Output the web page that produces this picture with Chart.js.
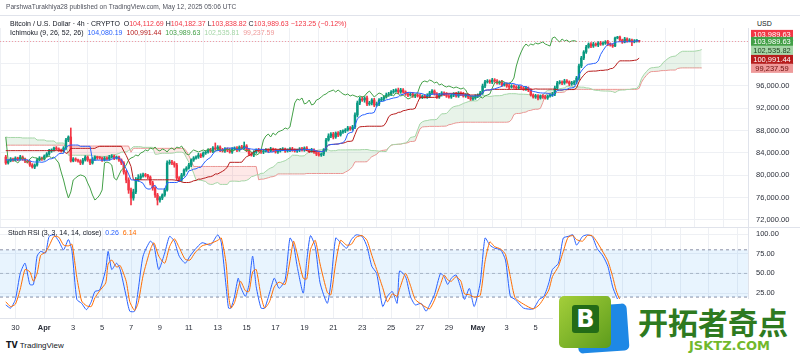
<!DOCTYPE html>
<html><head><meta charset="utf-8">
<script src="https://cdn.jsdelivr.net/npm/chart.js@4.4.1/dist/chart.umd.min.js"></script>
<style>
html,body{margin:0;padding:0;background:#fff;width:800px;height:356px;overflow:hidden;font-family:"Liberation Sans",Arial,sans-serif;}
.abs{position:absolute;white-space:nowrap;}
.t{font-size:7px;color:#131722;z-index:5;}
</style></head><body>
<div class="abs" style="left:0;top:28px;width:800px;height:200px"><canvas id="price" width="800" height="200"></canvas></div>
<div class="abs" style="left:0;top:228px;width:800px;height:108px"><canvas id="rsi" width="800" height="108"></canvas></div>
<div class="abs" style="left:0;top:227px;width:800px;height:1px;background:#e0e3eb"></div>
<div class="abs" style="left:0;top:15px;width:800px;height:1px;background:#e0e3eb"></div>

<div class="abs t" style="left:6px;top:3px;font-size:6.6px;color:#50535e">ParshwaTurakhiya28 published on TradingView.com, May 12, 2025 05:06 UTC</div>
<div class="abs t" style="left:10px;top:20px">Bitcoin / U.S. Dollar · 4h · CRYPTO&nbsp; O<span style="color:#F23645">104,112.69</span> H<span style="color:#F23645">104,182.37</span> L<span style="color:#F23645">103,838.82</span> C<span style="color:#F23645">103,989.63</span> <span style="color:#F23645">−123.25 (−0.12%)</span></div>
<div class="abs t" style="left:10px;top:29px">Ichimoku (9, 26, 52, 26)&nbsp; <span style="color:#2962FF">104,080.19</span>&nbsp; <span style="color:#B71C1C">100,991.44</span>&nbsp; <span style="color:#43A047">103,989.63</span>&nbsp; <span style="color:#A5D6A7">102,535.81</span>&nbsp; <span style="color:#EF9A9A">99,237.59</span></div>
<div class="abs t" style="left:757px;top:20px;font-size:7px">USD</div>
<div class="abs t" style="left:8px;top:229px">Stoch RSI (3, 3, 14, 14, close)&nbsp; <span style="color:#2962FF">0.26</span>&nbsp; <span style="color:#FF6D00">6.14</span></div>
<div class="abs t" style="left:6px;top:341px;font-size:8px;color:#131722"><b style="font-family:'DejaVu Sans';font-size:8px">TV</b> TradingView</div>

<div class="abs" style="left:553px;top:299px;width:247px;height:57px;background:#fff;z-index:6"></div>
<div class="abs" style="left:577px;top:305px;width:51px;height:47px;background:#1e88e5;border-radius:5px;transform:rotate(-4deg);z-index:7"></div>
<div class="abs" style="left:559px;top:296px;width:52px;height:52px;background:linear-gradient(135deg,#a4cf3a,#5d9c1c);border-radius:5px;z-index:8"></div>
<div class="abs" style="left:572px;top:305px;width:27px;height:28px;background:#236b17;border-radius:3px;color:#fff;font:bold 24px 'DejaVu Sans';text-align:center;line-height:28px;z-index:9">B</div>
<div class="abs" style="left:638px;top:299px;font:bold 30px 'Noto Sans CJK SC';color:#2e7a20;z-index:9">开拓者奇点</div>
<div class="abs" style="left:689px;top:338px;font:bold 13px 'DejaVu Sans';color:#72b82c;z-index:9">JSKTZ.COM</div>

<script>
// ---- data (BTC/USD 4h candles, Mar 29 08:00 -> May 12 04:00 UTC) ----
const firstOpen = 83280;
const closes = [
82210,82570,82930,82750,83100,82920,83280,82930,82570,82390,81850,81490,
81850,82750,83100,82930,83460,83820,84360,84540,84900,84720,84540,84360,
84900,86330,86870,82570,82930,82750,82570,82210,82750,83280,82750,82210,
82930,83280,83150,83100,82750,83100,82930,83280,83460,83100,83280,82750,
82210,80600,79160,77370,75940,77020,79160,79520,79880,80060,79950,79700,
78630,77730,76480,75580,75940,76480,77370,82210,82390,82210,81850,79520,
79160,80060,80960,81310,81850,82750,83100,83280,83640,83460,84000,84180,
84540,84360,84900,84720,85070,84540,84360,84720,84540,84180,84720,84900,
84540,85070,84900,85250,84540,83820,83640,84180,84540,84360,84180,84360,
84540,84360,84720,84540,84180,84360,84540,84720,84360,84540,84720,84540,
84360,84540,84720,84540,84900,84540,84360,84540,84180,83820,83640,83820,
84540,86330,87040,87400,86870,87580,87220,87760,87940,88120,88480,88300,
88660,90810,92960,93670,93490,93850,92780,92960,93490,92600,92780,93490,
93670,94030,94390,94570,94930,95100,95280,94930,95280,94930,94570,94390,
94570,94210,94390,94210,94030,94210,94030,94210,94750,95100,94570,94030,
94390,94750,94570,94210,94030,94390,94570,94210,94750,94570,94210,94390,
94030,93670,93850,94210,94390,94750,96000,96720,96900,96720,97070,96900,
96540,96720,96180,96360,96000,95820,96000,95820,95640,95820,95640,95460,
95640,95280,94390,94030,94210,93850,94210,94030,93850,94210,94390,94570,
95640,96540,96720,96540,96900,96720,96360,96540,96720,97430,99580,101010,
102090,102980,103520,103160,103520,103340,103700,103520,103700,103880,103520,103340,
103160,104600,104780,104240,103880,104420,104060,104240,103880,104060,104112.69,103989.63
];
const wickUp = [
300,200,250,180,220,150,300,200,180,150,200,250,
200,300,250,180,200,250,300,200,150,250,200,180,
250,300,200,1610,250,200,180,220,300,250,200,180,
250,200,150,220,180,250,200,300,250,180,200,150,
200,250,300,400,350,500,450,600,400,350,300,250,
200,300,250,300,250,200,300,400,350,300,250,300,
250,300,200,250,300,200,250,200,300,250,200,250,
200,300,250,900,250,200,300,250,200,300,250,200,
250,200,300,720,250,200,300,250,200,300,250,200,
250,200,300,150,250,200,300,250,150,200,250,300,
200,150,250,300,200,250,150,300,200,250,300,200,
250,300,400,250,300,200,250,300,200,250,300,250,
300,400,350,300,400,250,350,300,250,300,350,250,
300,250,350,300,250,300,200,350,300,250,200,300,
250,300,200,250,300,200,250,400,300,250,200,250,
300,250,200,250,300,200,250,300,250,200,300,250,
200,250,300,250,200,300,350,300,250,200,300,250,
250,200,300,250,200,300,250,200,250,300,200,250,
300,200,250,200,300,250,200,250,300,200,250,300,
350,300,250,200,300,250,200,300,250,300,350,300,
250,300,200,250,300,200,250,300,200,250,300,200,
250,150,120,170,150,300,200,250,150,250,200,69.68
];
const wickDn = [
250,200,150,250,200,300,200,250,300,200,250,200,
300,200,150,250,200,150,200,250,200,150,250,200,
200,250,300,200,150,250,200,300,250,200,250,300,
200,250,300,200,250,200,150,250,200,300,200,250,
300,400,500,600,1250,400,300,250,300,200,250,300,
350,400,450,890,400,300,250,200,250,300,400,350,
300,250,200,250,200,300,250,200,250,300,200,250,
200,250,300,200,250,300,200,250,300,200,250,200,
300,250,200,250,300,250,200,300,250,200,250,300,
200,250,150,300,200,250,200,150,250,200,300,250,
200,250,300,200,250,150,300,200,250,300,200,250,
300,250,200,300,350,250,300,200,250,300,200,250,
250,300,350,300,250,400,300,250,350,300,250,300,
250,300,200,250,300,250,200,300,250,200,250,300,
200,250,300,200,250,300,200,250,300,250,200,250,
250,200,300,250,200,250,300,200,250,300,200,250,
300,250,200,250,300,200,250,300,200,250,300,250,
200,250,300,200,250,300,200,250,300,250,200,250,
250,300,200,200,250,324.82,200,250,200,250,200,250,
300,250,200,300,250,200,300,250,300,350,397.12,300,
300,250,200,300,250,200,300,250,200,250,300,200,
250,100,150,200,250,150,200,150,669.62,150,200,150.81
];
// Ichimoku values left of the loaded history
const kijunLead = [84420,84420,84420,84420,84420,84420,84420,84420,84420,84420,84420,84420,84420,
  84420,84420,84420,84420,84420,84420,84420,84420,84420,84420,84420,84420];
const spanALead = [86870,86780,86780,86780,86780,86780,86780,86690,86690,86690,86690,86690,86690,
  86330,86330,86330,86330,86150,86150,86150,86150,85790,85790,85790,85790,85250];
const spanBLead = [85400,85400,85400,85400,85400,85400,85400,85400,85400,85400,85400,85400,85400,
  85400,85400,85400,85400,85400,85400,85400,85400,85400,85400,85400,85400,
  85250,85250,85250,85250,85250,85250,85250,85250,85250,85250,85250,85250,85250,85250,
  85250,85250,85250,85250,85250,85250,85250,85250,85250,85250,85250,85250,85250];
const rsiAt = [0,2,4,6,8,10,11.5,13,14.5,16.5,18,20,22,24,26,27.5,29.5,31.5,33.5,35.5,
  37,39,41.5,42.5,44,46,47.5,50,51.5,53.5,55,57,60,61.5,63.5,66,68,70,72,74.5,
  76.5,78.5,81.5,85,88,89.5,91.5,92.5,93.5,95,96.5,97.5,99.5,101,102.5,104,106,107.5,109.5,111.5,
  113.5,116,118,119.5,121,123.5,125,126.5,128.5,130.5,133.5,135,137,139,141.5,143.5,145.5,148,150,152,
  154,156.5,158.5,160.5,162.5,163.5,166,168,170,172.5,174.5,176,178,180.5,182,183.5,185,187,189,190.5,
  192.5,194.5,197,199,201,203,205.5,207.5,209.5,211.5,215,219,221.5,223.5,225.5,227,229.5,231.5,233.5,235.5,
  237,239.5,241.5,243.5,245.5,248,250,252,253.5,255,257,259,261,262,263];
const stochK = [10,6,17,50,63,36,36,72,78,76,97,99,91,80,93,78,17,12,4,14,
  27,29,55,78,55,63,55,21,2,2,29,72,91,86,55,76,97,91,72,63,
  72,80,89,86,99,89,33,6,6,21,44,33,21,36,72,33,6,6,25,44,
  31,42,95,86,59,25,67,98,84,38,12,38,95,89,82,93,99,97,84,59,
  50,8,21,27,12,53,46,21,10,12,2,10,23,50,46,36,44,48,31,17,
  31,8,38,95,86,82,80,67,21,17,6,5,17,21,38,55,63,95,97,99,
  86,97,99,97,82,72,59,33,21,12,8,10,14,4,0.26];
const stochD = [14,8,11,30,55,52,40,50,73,77,85,97,96,86,85,87,45,15,9,8,
  19,28,38,62,67,58,60,40,14,3,13,47,80,89,72,63,84,94,83,68,
  67,76,85,88,92,95,62,22,6,13,31,40,28,27,52,55,21,6,14,33,
  39,36,66,91,75,44,43,80,92,62,26,23,63,92,86,87,96,98,92,73,
  55,32,14,24,21,30,50,35,17,11,7,5,16,36,48,42,40,46,40,24,
  23,20,22,65,90,84,81,74,46,19,11,5,10,19,29,46,59,78,96,98,
  93,91,98,98,90,77,66,46,28,17,11,9,12,9,6.14];
const priceTicks = [72000,76000,80000,84000,88000,92000,96000,100000,104000];
const rsiTicks = [25,50,75,100];
const bandUpper = 80, bandMid = 50, bandLower = 20;
const dateLabels = ['30','Apr','3','5','7','9','11','13','15','17','19','21','23','25','27','29',
  'May','3','5','7','9','11','13','15','17','19'];

// ---- derived ----
const n = closes.length;
const dateTicks = dateLabels.map((_, k) => 4 + 12 * k); // Mar 30 00:00 = candle 4, 6 candles/day
const opens = closes.map((c, i) => i === 0 ? firstOpen : closes[i - 1]);
const highs = closes.map((c, i) => Math.max(opens[i], c) + wickUp[i]);
const lows = closes.map((c, i) => Math.min(opens[i], c) - wickDn[i]);
function hh(a, b) { let m = -Infinity; for (let k = a; k <= b; k++) m = Math.max(m, highs[k]); return m; }
function ll(a, b) { let m = Infinity; for (let k = a; k <= b; k++) m = Math.min(m, lows[k]); return m; }
const tenkan = closes.map((c, i) => (hh(Math.max(0, i - 8), i) + ll(Math.max(0, i - 8), i)) / 2);
const kijun = closes.map((c, i) => i < kijunLead.length ? kijunLead[i] : (hh(i - 25, i) + ll(i - 25, i)) / 2);
const spanA = [], spanB = [];
for (let p = 0; p < n + 26; p++) {
  const i = p - 26;
  spanA.push({x: p, y: p < spanALead.length ? spanALead[p] : (tenkan[i] + kijun[i]) / 2});
  spanB.push({x: p, y: p < spanBLead.length ? spanBLead[p] : (hh(Math.max(0, i - 51), i) + ll(Math.max(0, i - 51), i)) / 2});
}
const chikou = [];
for (let i = 26; i < n; i++) chikou.push({x: i - 26, y: closes[i]});

const UP = '#089981', DOWN = '#F23645';
const candleColor = ctx => closes[ctx.dataIndex] >= opens[ctx.dataIndex] ? UP : DOWN;
const fmt = v => v.toLocaleString('en-US', {minimumFractionDigits: 2, maximumFractionDigits: 2});
const GRID = '#eef0f4';
const FONT = {family: "'Liberation Sans', Arial, sans-serif", size: 7.5};
const X_MIN = -2.4, X_MAX = 308.2;
const noPad = a => { a.paddingTop = 0; a.paddingBottom = 0; a.paddingLeft = 0; a.paddingRight = 0; };

const tagPlugin = {
  id: 'tags',
  afterDraw(chart) {
    const ctx = chart.ctx, ys = chart.scales.y, area = chart.chartArea;
    const last = n - 1;
    const yc = ys.getPixelForValue(closes[last]);
    ctx.save();
    ctx.strokeStyle = 'rgba(242,54,69,0.45)'; ctx.lineWidth = 1; ctx.setLineDash([1, 2]);
    ctx.beginPath(); ctx.moveTo(area.left, Math.round(yc) + 0.5); ctx.lineTo(area.right, Math.round(yc) + 0.5); ctx.stroke();
    ctx.setLineDash([]);
    const h = 9, x0 = 751, w = 42;
    const tags = [
      {v: closes[last], bg: '#F23645', fg: '#fff', yy: yc - 7},
      {v: closes[last], bg: '#43A047', fg: '#fff', yy: yc},
      {v: spanA[last + 26].y, bg: '#A5D6A7', fg: '#1b3d1c'},
      {v: kijun[last], bg: '#B71C1C', fg: '#fff'},
      {v: spanB[last + 26].y, bg: '#EF9A9A', fg: '#6d0f0f'}
    ];
    let prevBottom = -Infinity;
    ctx.font = "7.5px 'Liberation Sans', Arial, sans-serif";
    ctx.textAlign = 'center'; ctx.textBaseline = 'middle';
    tags.forEach(t => {
      const cy = t.yy !== undefined ? t.yy : Math.max(ys.getPixelForValue(t.v), prevBottom + h / 2);
      ctx.fillStyle = t.bg;
      ctx.fillRect(x0, cy - h / 2, w, h);
      ctx.fillStyle = t.fg;
      ctx.fillText(fmt(t.v), x0 + w / 2, cy + 0.5);
      prevBottom = cy + h / 2;
    });
    ctx.restore();
  }
};

new Chart(document.getElementById('price'), {
  type: 'bar',
  data: {
    datasets: [
      {type: 'line', data: spanA, borderColor: '#A5D6A7', borderWidth: 1, pointRadius: 0, tension: 0,
        fill: {target: 1, above: 'rgba(67,160,71,0.12)', below: 'rgba(244,67,54,0.12)'}, order: 10},
      {type: 'line', data: spanB, borderColor: '#EF9A9A', borderWidth: 1, pointRadius: 0, tension: 0, fill: false, order: 10},
      {type: 'bar', data: closes.map((c, i) => ({x: i, y: [lows[i], highs[i]]})), backgroundColor: candleColor,
        barThickness: 1, grouped: false, order: 5},
      {type: 'bar', data: closes.map((c, i) => ({x: i, y: [opens[i], c]})), backgroundColor: candleColor,
        barThickness: 1.8, minBarLength: 1, grouped: false, order: 4},
      {type: 'line', data: tenkan.map((v, i) => ({x: i, y: v})), borderColor: '#2962FF', borderWidth: 1, pointRadius: 0, tension: 0, fill: false, order: 1},
      {type: 'line', data: kijun.map((v, i) => ({x: i, y: v})), borderColor: '#B71C1C', borderWidth: 1, pointRadius: 0, tension: 0, fill: false, order: 1},
      {type: 'line', data: chikou, borderColor: '#43A047', borderWidth: 1, pointRadius: 0, tension: 0, fill: false, order: 1}
    ]
  },
  options: {
    responsive: false, animation: false, events: [],
    layout: {padding: 0, autoPadding: false},
    plugins: {legend: {display: false}, tooltip: {enabled: false}},
    scales: {
      x: {type: 'linear', min: X_MIN, max: X_MAX, offset: false,
        afterBuildTicks: a => { a.ticks = dateTicks.map(v => ({value: v})); },
        afterFit: a => { a.height = 0; noPad(a); },
        ticks: {display: false}, grid: {color: GRID, drawTicks: false}, border: {display: false}},
      y: {type: 'linear', position: 'right', min: 70567, max: 106387,
        afterBuildTicks: a => { a.ticks = priceTicks.map(v => ({value: v})); },
        afterFit: a => { a.width = 52; noPad(a); },
        ticks: {font: FONT, color: '#2a2e39', padding: 8, callback: v => fmt(v)},
        grid: {color: GRID, drawTicks: false}, border: {display: true, color: '#e0e3eb'}}
    }
  },
  plugins: [tagPlugin]
});

const xs = [X_MIN, X_MAX];
new Chart(document.getElementById('rsi'), {
  type: 'line',
  data: {
    datasets: [
      {data: xs.map(x => ({x, y: bandUpper})), borderColor: '#8a90a6', borderWidth: 1, borderDash: [3, 3], pointRadius: 0,
        fill: {target: 1}, backgroundColor: 'rgba(33,150,243,0.1)', order: 10},
      {data: xs.map(x => ({x, y: bandLower})), borderColor: '#8a90a6', borderWidth: 1, borderDash: [3, 3], pointRadius: 0, fill: false, order: 10},
      {data: xs.map(x => ({x, y: bandMid})), borderColor: 'rgba(120,123,134,0.45)', borderWidth: 1, borderDash: [3, 3], pointRadius: 0, fill: false, order: 10},
      {data: rsiAt.map((x, j) => ({x, y: stochK[j]})), borderColor: '#2962FF', borderWidth: 1, pointRadius: 0, tension: 0.2, fill: false, order: 2},
      {data: rsiAt.map((x, j) => ({x, y: stochD[j]})), borderColor: '#FF6D00', borderWidth: 1, pointRadius: 0, tension: 0.2, fill: false, order: 1}
    ]
  },
  options: {
    responsive: false, animation: false, events: [],
    layout: {padding: 0, autoPadding: false},
    plugins: {legend: {display: false}, tooltip: {enabled: false}},
    scales: {
      x: {type: 'linear', min: X_MIN, max: X_MAX, offset: false,
        afterBuildTicks: a => { a.ticks = dateTicks.map(v => ({value: v})); },
        afterFit: a => { a.height = 18; noPad(a); },
        ticks: {autoSkip: false, maxRotation: 0, padding: 5, color: '#2a2e39',
          font: c => ({family: FONT.family, size: 7.5, weight: /[A-Za-z]/.test(dateLabels[dateTicks.indexOf(c.tick && c.tick.value)] || '') ? 'bold' : 'normal'}),
          callback: v => dateLabels[dateTicks.indexOf(v)] || ''},
        grid: {color: GRID, drawTicks: false}, border: {display: true, color: '#e0e3eb'}},
      y: {type: 'linear', position: 'right', min: -6.6, max: 107.7,
        afterBuildTicks: a => { a.ticks = rsiTicks.map(v => ({value: v})); },
        afterFit: a => { a.width = 52; noPad(a); },
        ticks: {font: FONT, color: '#2a2e39', padding: 8, callback: v => v.toFixed(2)},
        grid: {color: GRID, drawTicks: false}, border: {display: true, color: '#e0e3eb'}}
    }
  }
});
</script>
</body></html>
